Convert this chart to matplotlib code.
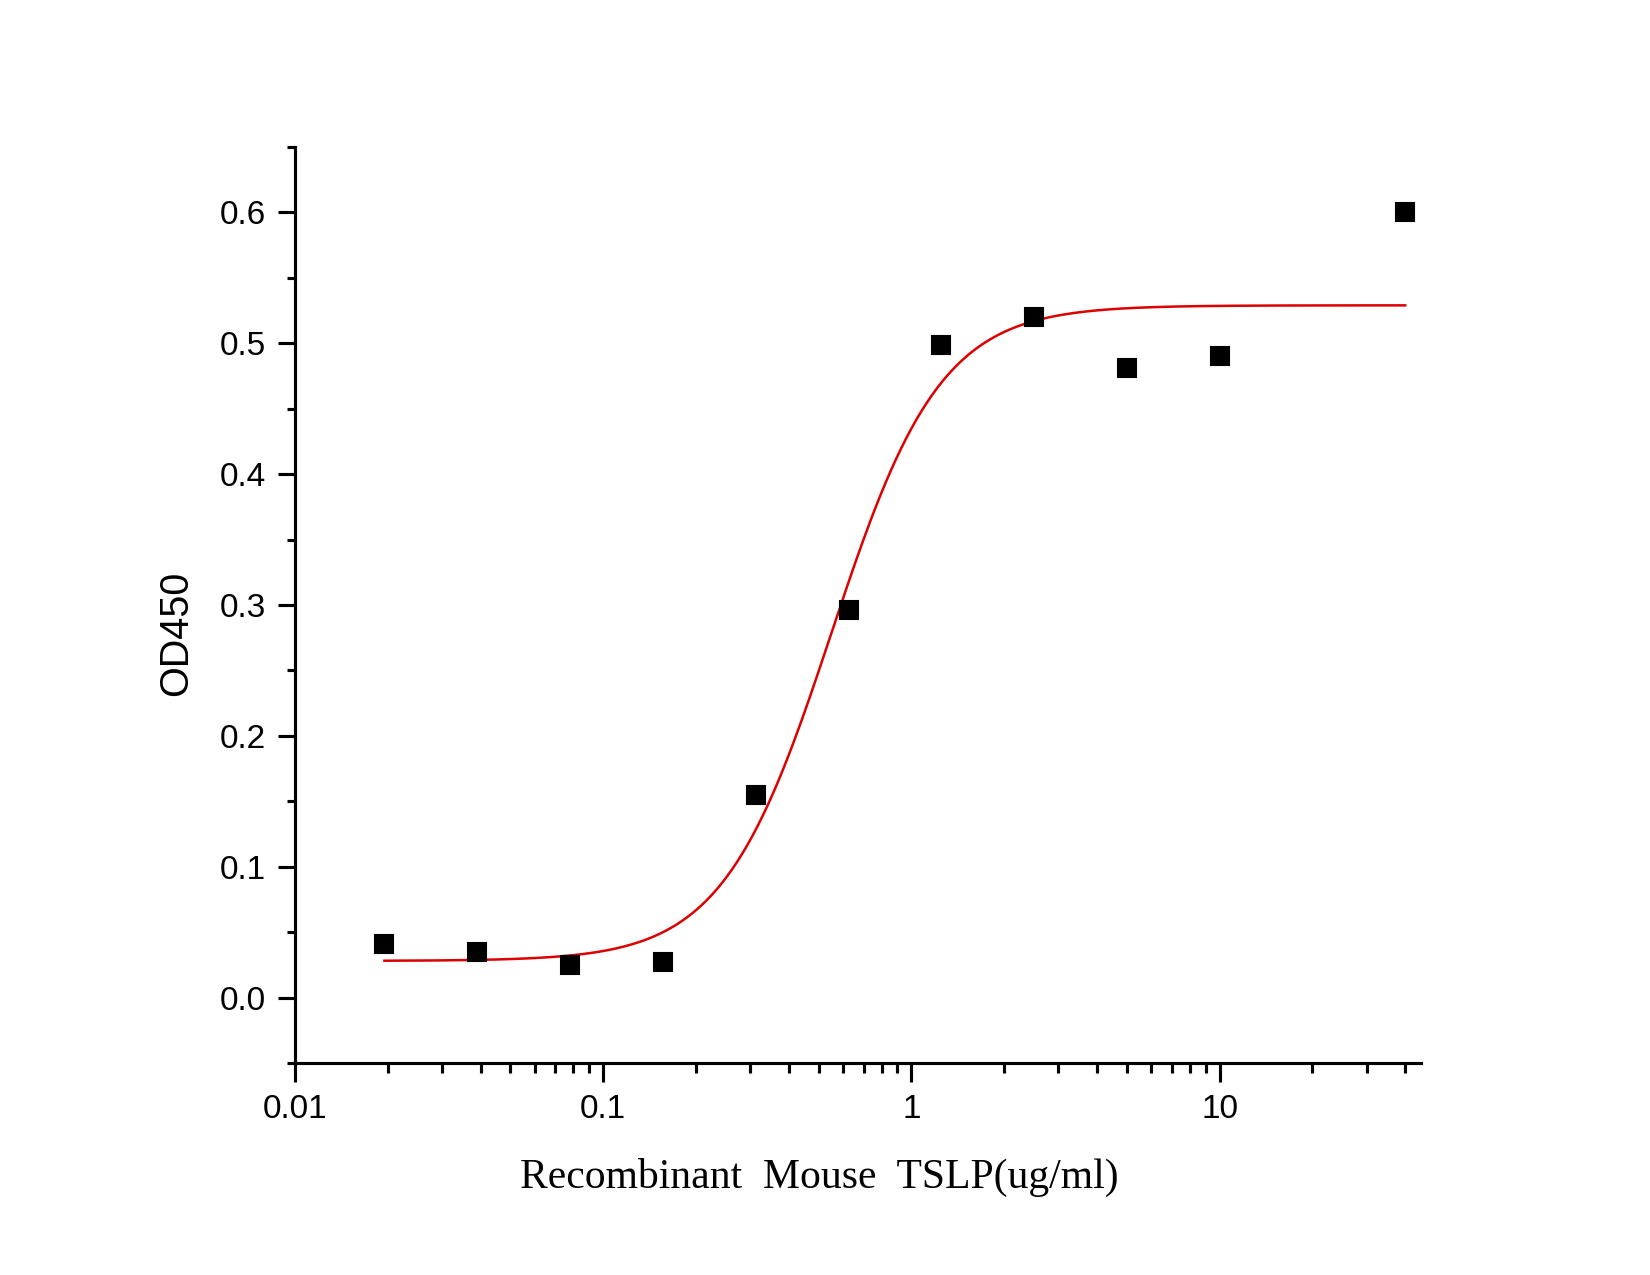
import numpy as np
import matplotlib
matplotlib.use('Agg')
import matplotlib.pyplot as plt
from matplotlib.ticker import LogLocator, FixedLocator, NullFormatter

# measured points (ug/ml vs OD450)
conc = [0.0195, 0.039, 0.078, 0.156, 0.3125, 0.625, 1.25, 2.5, 5, 10, 40]
od450 = [0.041, 0.035, 0.025, 0.027, 0.155, 0.296, 0.499, 0.520, 0.481, 0.490, 0.600]

# 4PL fit parameters
bottom = 0.028
top = 0.529
ec50 = 0.55
hill = 2.45

x_fit = np.logspace(np.log10(conc[0]), np.log10(conc[-1]), 400)
y_fit = bottom + (top - bottom) / (1 + (ec50 / x_fit) ** hill)

fig = plt.figure(figsize=(11, 8.5), dpi=150)
ax = fig.add_axes([0.1788, 0.1663, 0.8612 - 0.1788, 0.8847 - 0.1663])

ax.plot(x_fit, y_fit, color='#dd0000', lw=1.2, zorder=2)
ax.plot(conc, od450, 's', color='black', ms=9, zorder=3)

ax.set_xscale('log')
ax.set_xlim(0.01, 45)
ax.set_ylim(-0.05, 0.65)

ax.xaxis.set_major_locator(FixedLocator([0.01, 0.1, 1, 10]))
ax.set_xticklabels(['0.01', '0.1', '1', '10'])
ax.xaxis.set_minor_locator(LogLocator(base=10, subs=np.arange(2, 10), numticks=20))
ax.xaxis.set_minor_formatter(NullFormatter())

ax.set_yticks([0.0, 0.1, 0.2, 0.3, 0.4, 0.5, 0.6])
ax.set_yticklabels(['0.0', '0.1', '0.2', '0.3', '0.4', '0.5', '0.6'])
ax.set_yticks(np.arange(-0.05, 0.66, 0.1), minor=True)

for s in ['top', 'right']:
    ax.spines[s].set_visible(False)
for s in ['left', 'bottom']:
    ax.spines[s].set_linewidth(1.5)

ax.tick_params(axis='both', which='major', width=1.5, labelsize=16,
               pad=6, direction='out')
ax.tick_params(axis='x', which='major', length=9)
ax.tick_params(axis='x', which='minor', length=5, width=1.5)
ax.tick_params(axis='y', which='major', length=8)
ax.tick_params(axis='y', which='minor', length=4, width=1.5)
for lab in ax.get_xticklabels() + ax.get_yticklabels():
    lab.set_family('Liberation Sans')

ax.set_xlabel('Recombinant  Mouse  TSLP(ug/ml)', family='Liberation Serif',
              fontsize=20, va='center')
ax.xaxis.set_label_coords(0.4654, -0.125)
ax.set_ylabel('OD450', family='Liberation Sans', fontsize=19, va='center')
ax.yaxis.set_label_coords(-0.1057, 0.469)

fig.savefig('out.png', dpi=150)
